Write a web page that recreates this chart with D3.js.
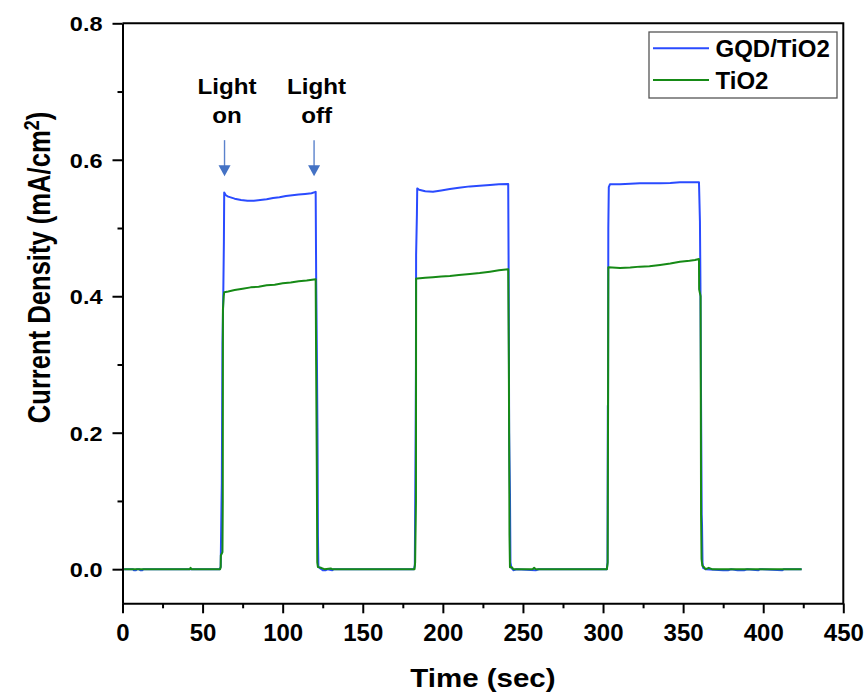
<!DOCTYPE html>
<html>
<head>
<meta charset="utf-8">
<script src="https://cdn.jsdelivr.net/npm/d3@7"></script>
<style>
  body { margin: 0; background: #fff; }
  svg { display: block; }
  text { font-family: Arial, "Liberation Sans", sans-serif; font-weight: bold; fill: #000; }
</style>
</head>
<body>
<svg id="chart" width="867" height="698"></svg>
<script>
// Photocurrent response, [time (s), current density (mA/cm²)]
const gqdTiO2 = [
  [1.0, 0.000], [6.5, 0.000], [7.0, -0.0015], [8.5, -0.0015], [9.0, 0.000], [10.5, 0.000], [11.0, -0.0015], [12.5, -0.0015], [13.0, 0.000], [25, 0.000], [45, 0.000], [60.8, 0.000],
  [61.3, 0.004], [61.8, 0.095], [62.0, 0.125], [62.4, 0.330], [62.9, 0.400], [63.3, 0.480], [63.5, 0.552],
  [64.5, 0.548], [66, 0.546], [70, 0.543], [74, 0.541], [78, 0.540], [82, 0.540], [86, 0.541], [90, 0.542], [94, 0.544], [98, 0.545], [102, 0.547], [106, 0.548], [110, 0.549], [114, 0.550], [118, 0.551], [120.6, 0.553],
  [120.9, 0.430], [121.4, 0.300], [121.7, 0.207], [121.8, 0.166], [122.0, 0.050], [122.3, 0.004], [123.5, 0.001], [125, -0.0015], [127, -0.0015], [128, 0.000], [131, -0.0015], [132, 0.000], [150, 0.000], [170, 0.000], [182.0, 0.000],
  [182.5, 0.006], [183.0, 0.200], [183.2, 0.300], [183.3, 0.460], [183.8, 0.520], [184.0, 0.558],
  [185.2, 0.556], [189, 0.554], [193.8, 0.553], [199, 0.555], [204.4, 0.557], [210, 0.559], [216.9, 0.561], [223, 0.562], [229.4, 0.563], [235, 0.564], [240.8, 0.5645],
  [241.1, 0.420], [241.4, 0.200], [241.6, 0.160], [241.9, 0.110], [242.2, 0.010], [242.8, 0.002], [244, -0.0015], [246, 0.000], [258, -0.0015], [260, 0.000], [270, 0.000], [290, 0.000], [302.4, 0.000],
  [302.8, 0.010], [303.0, 0.240], [303.1, 0.200], [303.3, 0.500], [303.6, 0.560], [304.3, 0.564],
  [310.6, 0.564], [317, 0.565], [323, 0.5656], [329, 0.5656], [335.6, 0.5656], [342, 0.566], [348, 0.567], [354, 0.567], [359.9, 0.567],
  [360.5, 0.510], [360.8, 0.420], [361.3, 0.200], [361.6, 0.080], [361.8, 0.065], [362.1, 0.010], [362.5, 0.002], [364, 0.000], [375, -0.0015], [378, -0.0015], [380, 0.000], [384, -0.0015], [388, -0.0015], [390, 0.000], [397, -0.0015], [398, 0.000], [412, -0.0015], [413, 0.000], [424, 0.000]
];

const tiO2 = [
  [1.0, 0.000], [20, 0.000], [42, 0.000], [42.5, 0.002], [43, 0.000], [60.9, 0.000],
  [61.3, 0.003], [61.4, 0.020], [62.4, 0.025], [62.6, 0.100], [62.7, 0.380], [63.2, 0.400], [63.5, 0.406],
  [66, 0.407], [70, 0.409], [75, 0.411], [80, 0.413], [85, 0.414], [90, 0.416], [95, 0.417], [100, 0.419], [105, 0.420], [110, 0.422], [115, 0.423], [120.6, 0.425],
  [120.9, 0.300], [121.3, 0.150], [121.6, 0.010], [122.0, 0.003], [124, 0.002], [126, 0.000], [130, 0.001], [131, 0.000], [182.3, 0.000],
  [182.7, 0.010], [183.2, 0.100], [183.3, 0.426], [184.0, 0.426], [189, 0.427], [193.8, 0.428], [199, 0.429], [204.4, 0.4297], [210, 0.431], [216.9, 0.4327], [223, 0.434], [229.4, 0.436], [235, 0.438], [240.8, 0.4396],
  [241.2, 0.300], [241.6, 0.050], [241.9, 0.003], [243, 0.003], [244, 0.000], [256, 0.000], [257, 0.002], [258, 0.000], [302.4, 0.000],
  [302.9, 0.010], [303.2, 0.300], [303.3, 0.4425], [310.6, 0.4415], [317, 0.442], [323, 0.4434], [329, 0.444], [335.6, 0.4459], [342, 0.448], [348, 0.4507], [354, 0.452], [357.4, 0.4532], [359.9, 0.4547],
  [360.0, 0.410], [360.9, 0.400], [361.2, 0.080], [361.5, 0.015], [362.0, 0.005], [363, 0.003], [364, 0.000], [366, 0.002], [368, 0.000], [424, 0.000]
];

const seriesNames = ["GQD/TiO2", "TiO2"];
const seriesColors = ["#2a4bff", "#168a16"];

const xMajorTicks = [0, 50, 100, 150, 200, 250, 300, 350, 400, 450];
const xMinorTicks = [25, 75, 125, 175, 225, 275, 325, 375, 425];
const yMajorTicks = [0.0, 0.2, 0.4, 0.6, 0.8];
const yMinorTicks = [0.1, 0.3, 0.5, 0.7];

// Light switching markers: arrow time and the label lines above it
const lightMarks = [
  { time: 63.7, lines: ["Light", "on"] },
  { time: 119.6, lines: ["Light", "off"] }
];
const arrowTipValue = 0.576;

const svg = d3.select("#chart");
const plotLeft = 122.5, plotRight = 843.3, plotTop = 23.3, plotBottom = 603.3;

const x = d3.scaleLinear().domain([0, 450]).range([plotLeft, plotRight]);
const y = d3.scaleLinear().domain([-0.05, 0.8]).range([plotBottom, plotTop]);

// Frame (top and right sides)
svg.append("path")
  .attr("d", `M${plotLeft},${plotTop}H${plotRight}V${plotBottom}`)
  .attr("fill", "none").attr("stroke", "#000").attr("stroke-width", 2);

// Data lines
const line = d3.line().x(d => x(d[0])).y(d => y(d[1]));
[gqdTiO2, tiO2].forEach((data, i) => {
  svg.append("path")
    .datum(data)
    .attr("d", line)
    .attr("fill", "none")
    .attr("stroke", seriesColors[i])
    .attr("stroke-width", 2)
    .attr("stroke-linejoin", "round");
});

// Bottom axis
const gx = svg.append("g").attr("transform", `translate(0,${plotBottom})`);
gx.call(d3.axisBottom(x).tickValues(xMajorTicks).tickSize(10).tickSizeOuter(0).tickPadding(11).tickFormat(d3.format("d")));
gx.append("g").call(d3.axisBottom(x).tickValues(xMinorTicks).tickSize(5).tickFormat(""))
  .select(".domain").remove();
gx.selectAll(".domain").attr("stroke-width", 2).attr("stroke", "#000");
gx.selectAll(".tick line").attr("stroke-width", 2).attr("stroke", "#000");
gx.selectAll(".tick text").attr("font-size", 24).attr("fill", "#000");
gx.attr("font-family", null).attr("font-size", null);

// Left axis
const gy = svg.append("g").attr("transform", `translate(${plotLeft},0)`);
gy.call(d3.axisLeft(y).tickValues(yMajorTicks).tickSize(10).tickSizeOuter(0).tickPadding(10).tickFormat(d3.format(".1f")));
gy.append("g").call(d3.axisLeft(y).tickValues(yMinorTicks).tickSize(5).tickFormat(""))
  .select(".domain").remove();
gy.selectAll(".domain").attr("stroke-width", 2).attr("stroke", "#000");
gy.selectAll(".tick line").attr("stroke-width", 2).attr("stroke", "#000");
gy.attr("font-family", null).attr("font-size", null);
gy.selectAll(".tick text")
  .attr("font-size", 21).attr("fill", "#000")
  .each(function () {
    const t = d3.select(this);
    const tx = +t.attr("x");
    t.attr("x", 0).attr("dy", "0.35em").attr("transform", `translate(${tx},0) scale(1.12,1)`);
  });

// Axis titles
svg.append("text")
  .attr("transform", `translate(${(plotLeft + plotRight) / 2},687) scale(1.18,1)`)
  .attr("text-anchor", "middle")
  .attr("font-size", 25)
  .text("Time (sec)");

const yTitle = svg.append("text")
  .attr("transform", "translate(49.5,267.5) rotate(-90) scale(1,1.2)")
  .attr("text-anchor", "middle")
  .attr("font-size", 25.6);
yTitle.append("tspan").text("Current Density (mA/cm");
yTitle.append("tspan").attr("font-size", 18).attr("dy", "-0.5em").text("2");
yTitle.append("tspan").attr("dy", "0.35em").text(")");

// Light on / off markers
lightMarks.forEach(m => {
  const ax = x(m.time);
  const tipY = y(arrowTipValue);
  svg.append("line")
    .attr("x1", ax).attr("x2", ax)
    .attr("y1", tipY - 36).attr("y2", tipY - 9)
    .attr("stroke", "#5a82cc").attr("stroke-width", 1.4);
  svg.append("path")
    .attr("d", `M${ax - 6},${tipY - 11}L${ax + 6},${tipY - 11}L${ax},${tipY}Z`)
    .attr("fill", "#4472c4");
  m.lines.forEach((s, k) => {
    svg.append("text")
      .attr("transform", `translate(${ax + 2.5},${tipY - 81.7 + k * 28.4}) scale(1.1,1)`)
      .attr("text-anchor", "middle")
      .attr("font-size", 22)
      .text(s);
  });
});

// Legend
const legend = svg.append("g");
legend.append("rect")
  .attr("x", 649).attr("y", 32).attr("width", 188).attr("height", 66)
  .attr("fill", "#fff").attr("stroke", "#555").attr("stroke-width", 1.3);
seriesNames.forEach((name, i) => {
  const ly = 48.3 + i * 31.7;
  legend.append("line")
    .attr("x1", 653).attr("x2", 709).attr("y1", ly).attr("y2", ly)
    .attr("stroke", seriesColors[i]).attr("stroke-width", 2);
  legend.append("text")
    .attr("x", 715.5).attr("y", ly + 8.6)
    .attr("font-size", 24)
    .text(name);
});
</script>
</body>
</html>
